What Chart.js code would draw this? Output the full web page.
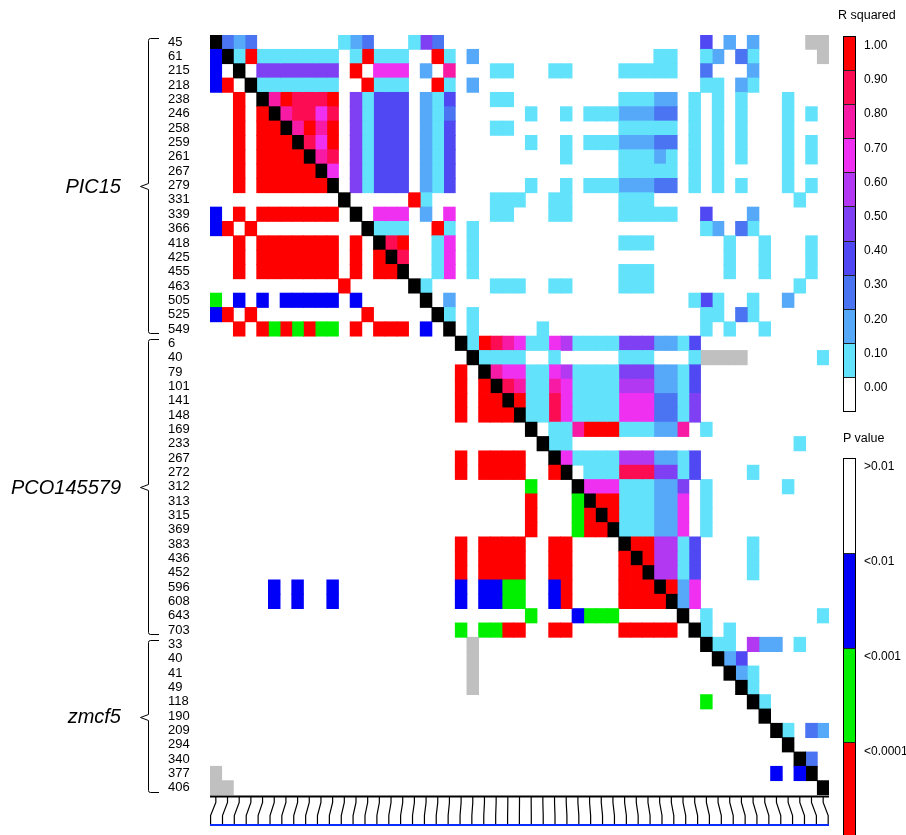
<!DOCTYPE html>
<html>
<head>
<meta charset="utf-8">
<script src="https://cdn.jsdelivr.net/npm/chart.js@4.4.1/dist/chart.umd.min.js"></script>
<style>
  html, body { margin: 0; padding: 0; background: #fff; }
  #wrap { position: relative; width: 906px; height: 835px; overflow: hidden;
          font-family: "Liberation Sans", Arial, sans-serif; color: #000; }
  #ld { position: absolute; left: 0; top: 0; }
  .grp { position: absolute; left: 0; width: 121px; text-align: right;
         font-style: italic; font-size: 20px; line-height: 24px; }
  .bar { position: absolute; left: 843px; width: 13px; box-sizing: border-box;
         border: 1px solid #000; display: flex; flex-direction: column; }
  .bar div { flex: 1 1 0; }
  .bar div + div { border-top: 1px solid #222; }
  .lbl { position: absolute; left: 864px; font-size: 12px; line-height: 14px; white-space: nowrap; }
  .ttl { position: absolute; font-size: 12.5px; line-height: 14px; white-space: nowrap; }
</style>
</head>
<body>
<div id="wrap">
  <canvas id="ld" width="906" height="835"></canvas>
  <div id="legend"></div>
</div>
<script>
// markers, top to bottom (and left to right)
const rowLabels = ['45', '61', '215', '218', '238', '246', '258', '259', '261', '267', '279',
  '331', '339', '366', '418', '425', '455', '463', '505', '525', '549',
  '6', '40', '79', '101', '141', '148', '169', '233', '267', '272', '312', '313', '315',
  '369', '383', '436', '452', '596', '608', '643', '703',
  '33', '40', '41', '49', '118', '190', '209', '294', '340', '377', '406'];
const groupNames = ['PIC15', 'PCO145579', 'zmcf5'];
const groupSizes = [21, 21, 11];

const r2Ticks = ['1.00', '0.90', '0.80', '0.70', '0.60', '0.50', '0.40', '0.30', '0.20', '0.10', '0.00'];
const pTicks = ['>0.01', '<0.01', '<0.001', '<0.0001'];

// upper triangle: R squared in tenths (X = 1.0, g = no data)
const rSquaredRows = [
  '-323000000 0123000153 0000000000 0000000000 0040202000 0gg',
  '--1X111111 101X11100X 1020000000 0000000011 0012031000 00g',
  '---0555555 50X0777020 8000110001 1000011111 0030002000 000',
  '----111111 100X11100X 1020000000 0000000000 0011021000 000',
  '-----8X999 X051444021 4000110000 0000011122 0101010001 000',
  '------8997 9051444021 3000000100 1011122233 0101010001 010',
  '-------8X8 X051444021 4000110000 0000011111 0101010001 000',
  '--------97 X051444021 4000000100 1011122233 0101010001 010',
  '---------8 9051444021 4000000000 1000011121 0101010001 010',
  '---------- 7051444021 4000000000 0000011111 0101000001 000',
  '---------- -051444021 4000000100 1011122233 0101010001 010',
  '---------- --00000X10 0000111001 1000011100 0000000000 100',
  '---------- ---0777020 7000110001 1000011111 0040002000 000',
  '---------- ----11100X 1010000000 0000000000 0012031000 000',
  '---------- -----9X001 7010000000 0000011100 0000100100 010',
  '---------- ------9001 7010000000 0000000000 0000100100 010',
  '---------- -------001 7010000000 0000011100 0000100100 010',
  '---------- --------10 0000111001 1000011100 0000000000 100',
  '---------- ---------0 2000000000 0000000000 0141001002 000',
  '---------- ---------- 1010000000 0000000000 0011031000 000',
  '---------- ---------- -010000010 0000000000 0010100100 000',
  '---------- ---------- --1X987117 6111155522 1400000000 000',
  '---------- ---------- ---1111001 0000011100 01gggg0000 001',
  '---------- ---------- ----877117 6111155522 1400000000 000',
  '---------- ---------- -----98118 7111166622 1400000000 000',
  '---------- ---------- ------X119 7111177733 1500000000 000',
  '---------- ---------- -------119 7111177733 1500000000 000',
  '---------- ---------- --------01 18XXX11122 8010000000 000',
  '---------- ---------- ---------1 1000000000 0000000000 100',
  '---------- ---------- ---------- 7111166622 1400000000 000',
  '---------- ---------- ---------- -011199955 1400001000 000',
  '---------- ---------- ---------- --77711122 5010000001 000',
  '---------- ---------- ---------- ---XX11122 7010000000 000',
  '---------- ---------- ---------- ----X11122 7010000000 000',
  '---------- ---------- ---------- -----11122 7010000000 000',
  '---------- ---------- ---------- ------XX66 1400001000 000',
  '---------- ---------- ---------- -------X66 1400001000 000',
  '---------- ---------- ---------- --------66 1400001000 000',
  '---------- ---------- ---------- ---------X 2700000000 000',
  '---------- ---------- ---------- ---------- 2700000000 000',
  '---------- ---------- ---------- ---------- -010000000 001',
  '---------- ---------- ---------- ---------- --10100000 000',
  '---------- ---------- ---------- ---------- ---1106220 100',
  '---------- ---------- ---------- ---------- ----240000 000',
  '---------- ---------- ---------- ---------- -----21000 000',
  '---------- ---------- ---------- ---------- ------1000 000',
  '---------- ---------- ---------- ---------- -------100 000',
  '---------- ---------- ---------- ---------- --------00 000',
  '---------- ---------- ---------- ---------- ---------1 032',
  '---------- ---------- ---------- ---------- ---------- 000',
  '---------- ---------- ---------- ---------- ---------- -30',
  '---------- ---------- ---------- ---------- ---------- --0',
  '---------- ---------- ---------- ---------- ---------- ---',
];

// lower triangle: P value class (. >0.01, b <0.01, n <0.001, r <0.0001, g no data)
const pValueRows = [
  '---------- ---------- ---------- ---------- ---------- ---',
  'b--------- ---------- ---------- ---------- ---------- ---',
  'b.-------- ---------- ---------- ---------- ---------- ---',
  'br.------- ---------- ---------- ---------- ---------- ---',
  '..r.------ ---------- ---------- ---------- ---------- ---',
  '..r.r----- ---------- ---------- ---------- ---------- ---',
  '..r.rr---- ---------- ---------- ---------- ---------- ---',
  '..r.rrr--- ---------- ---------- ---------- ---------- ---',
  '..r.rrrr-- ---------- ---------- ---------- ---------- ---',
  '..r.rrrrr- ---------- ---------- ---------- ---------- ---',
  '..r.rrrrrr ---------- ---------- ---------- ---------- ---',
  '.......... .--------- ---------- ---------- ---------- ---',
  'b.r.rrrrrr r.-------- ---------- ---------- ---------- ---',
  'br.r...... ...------- ---------- ---------- ---------- ---',
  '..r.rrrrrr r.r.------ ---------- ---------- ---------- ---',
  '..r.rrrrrr r.r.r----- ---------- ---------- ---------- ---',
  '..r.rrrrrr r.r.rr---- ---------- ---------- ---------- ---',
  '.......... .r.....--- ---------- ---------- ---------- ---',
  'n.b.b.bbbb b.b.....-- ---------- ---------- ---------- ---',
  'br.r...... ...r.....- ---------- ---------- ---------- ---',
  '..r.rnrnrn n.r.rrr.b. ---------- ---------- ---------- ---',
  '.......... .......... .--------- ---------- ---------- ---',
  '.......... .......... ..-------- ---------- ---------- ---',
  '.......... .......... .r.------- ---------- ---------- ---',
  '.......... .......... .r.r------ ---------- ---------- ---',
  '.......... .......... .r.rr----- ---------- ---------- ---',
  '.......... .......... .r.rrr---- ---------- ---------- ---',
  '.......... .......... .......--- ---------- ---------- ---',
  '.......... .......... ........-- ---------- ---------- ---',
  '.......... .......... .r.rrrr..- ---------- ---------- ---',
  '.......... .......... .r.rrrr..r ---------- ---------- ---',
  '.......... .......... .......n.. .--------- ---------- ---',
  '.......... .......... .......r.. .n-------- ---------- ---',
  '.......... .......... .......r.. .nr------- ---------- ---',
  '.......... .......... .......r.. .nrr------ ---------- ---',
  '.......... .......... .r.rrrr..r r....----- ---------- ---',
  '.......... .......... .r.rrrr..r r....r---- ---------- ---',
  '.......... .......... .r.rrrr..r r....rr--- ---------- ---',
  '.....b.b.. b......... .b.bbnn..b r....rrr-- ---------- ---',
  '.....b.b.. b......... .b.bbnn..b r....rrrr- ---------- ---',
  '.......... .......... .......n.. .bnnn..... ---------- ---',
  '.......... .......... .n.nnrr..r r....rrrrr .--------- ---',
  '.......... .......... ..g....... .......... ..-------- ---',
  '.......... .......... ..g....... .......... ...------- ---',
  '.......... .......... ..g....... .......... ....------ ---',
  '.......... .......... ..g....... .......... .....----- ---',
  '.......... .......... .......... .......... ..n...---- ---',
  '.......... .......... .......... .......... .......--- ---',
  '.......... .......... .......... .......... ........-- ---',
  '.......... .......... .......... .......... .........- ---',
  '.......... .......... .......... .......... .......... ---',
  'g......... .......... .......... .......... ........b. b--',
  'gg........ .......... .......... .......... .......... ..-',
];

// where each marker line lands on the physical map (in column units)
const mapPositions = [-0.45, 0.57, 1.58, 2.6, 3.62, 4.64, 5.65, 6.67, 7.69, 8.7, 9.72, 10.74,
  11.75, 12.77, 13.79, 14.81, 15.82, 16.84, 17.86, 18.87, 19.89, 20.91, 21.92, 22.94, 23.96,
  24.98, 25.99, 27.01, 28.03, 29.04, 30.06, 31.08, 32.09, 33.11, 34.13, 35.15, 36.16, 37.18,
  38.2, 39.21, 40.23, 41.25, 42.26, 43.28, 44.3, 45.32, 46.33, 47.35, 48.37, 49.38, 50.4,
  51.42, 52.43];

const r2Colors = ['#ffffff', '#62e2fb', '#56a8f8', '#4a74f2', '#5048f2', '#7e40f2',
  '#b238f2', '#f030f0', '#f71aa4', '#fc0c52', '#ff0000'];
const pColors = { b: '#0000f8', n: '#00f000', r: '#ff0000' };
const GREY = '#c0c0c0';

const r2 = rSquaredRows.map(s => s.replace(/ /g, ''));
const pv = pValueRows.map(s => s.replace(/ /g, ''));

function cellColor(r, c) {
  if (r === c) return '#000000';
  if (c > r) {
    const ch = r2[r][c];
    if (ch === 'g') return GREY;
    const t = ch === 'X' ? 10 : Number(ch);
    return t > 0 ? r2Colors[t] : null;
  }
  const ch = pv[r][c];
  if (ch === 'g') return GREY;
  return pColors[ch] || null;
}

// one dataset per column, one floating bar per row
const datasets = rowLabels.map((_, c) => {
  const colors = rowLabels.map((__, r) => cellColor(r, c));
  return {
    data: colors.map(col => (col ? [c - 0.5, c + 0.5] : null)),
    backgroundColor: colors.map(col => col || 'rgba(0,0,0,0)'),
  };
});

const ldDecor = {
  id: 'ldDecor',
  afterDraw(chart) {
    const { ctx, chartArea, scales: { x, y } } = chart;
    ctx.save();
    ctx.strokeStyle = '#000';
    ctx.lineWidth = 1;

    // group brackets
    let start = 0;
    groupSizes.forEach(n => {
      const top = Math.round(y.getPixelForValue(start) - 4) + 0.5;
      const bot = Math.round(y.getPixelForValue(start + n - 1) + 4) + 0.5;
      const mid = Math.round((top + bot) / 2) + 0.5;
      const bx = 148.5;
      ctx.beginPath();
      ctx.moveTo(159, top);
      ctx.lineTo(bx + 2, top);
      ctx.quadraticCurveTo(bx, top, bx, top + 2);
      ctx.lineTo(bx, mid - 3);
      ctx.lineTo(bx - 8, mid);
      ctx.lineTo(bx, mid + 3);
      ctx.lineTo(bx, bot - 2);
      ctx.quadraticCurveTo(bx, bot, bx + 2, bot);
      ctx.lineTo(159, bot);
      ctx.stroke();
      start += n;
    });

    // marker-to-map lines
    const left = x.getPixelForValue(-0.5), right = x.getPixelForValue(52.5);
    const y0 = chartArea.bottom + 1.5;
    ctx.lineWidth = 2;
    ctx.beginPath();
    ctx.moveTo(left, y0);
    ctx.lineTo(right, y0);
    ctx.stroke();
    ctx.lineWidth = 1.2;
    rowLabels.forEach((_, c) => {
      const xt = x.getPixelForValue(c), xb = x.getPixelForValue(mapPositions[c]);
      ctx.beginPath();
      ctx.moveTo(xt, y0);
      ctx.lineTo(xt, y0 + 6);
      ctx.lineTo(xb, y0 + 19);
      ctx.lineTo(xb, y0 + 28);
      ctx.stroke();
    });
    ctx.strokeStyle = '#0a2cff';
    ctx.lineWidth = 2;
    ctx.beginPath();
    ctx.moveTo(left, y0 + 28.5);
    ctx.lineTo(right, y0 + 28.5);
    ctx.stroke();
    ctx.restore();
  }
};

Chart.defaults.font.family = '"Liberation Sans", Arial, sans-serif';

const chart = new Chart(document.getElementById('ld'), {
  type: 'bar',
  data: { labels: rowLabels, datasets },
  options: {
    indexAxis: 'y',
    responsive: false,
    animation: false,
    events: [],
    layout: { padding: { left: 168, right: 77, top: 35, bottom: 40 } },
    datasets: {
      bar: { grouped: false, barPercentage: 1, categoryPercentage: 1, borderWidth: 0, inflateAmount: 0.4 }
    },
    plugins: { legend: { display: false }, tooltip: { enabled: false } },
    scales: {
      x: { type: 'linear', min: -0.5, max: 52.5, display: false },
      y: {
        type: 'category',
        offset: true,
        grid: { display: false },
        border: { display: false },
        ticks: { autoSkip: false, crossAlign: 'far', padding: 0, color: '#000', font: { size: 13 } },
        afterFit: s => { s.width = 42; }
      }
    }
  },
  plugins: [ldDecor]
});

// group names beside the brackets
const legend = document.getElementById('legend');
let first = 0;
groupNames.forEach((name, i) => {
  const last = first + groupSizes[i] - 1;
  const mid = (chart.scales.y.getPixelForValue(first) + chart.scales.y.getPixelForValue(last)) / 2;
  const el = document.createElement('div');
  el.className = 'grp';
  el.style.top = (mid - 12) + 'px';
  el.textContent = name;
  legend.appendChild(el);
  first = last + 1;
});

// colour keys
function addKey(title, titleX, titleY, top, bandH, colors, ticks, lblOff, height) {
  const t = document.createElement('div');
  t.className = 'ttl';
  t.style.left = titleX + 'px';
  t.style.top = titleY + 'px';
  t.textContent = title;
  legend.appendChild(t);
  const bar = document.createElement('div');
  bar.className = 'bar';
  bar.style.top = top + 'px';
  bar.style.height = height + 'px';
  colors.forEach(col => {
    const b = document.createElement('div');
    b.style.background = col;
    bar.appendChild(b);
  });
  legend.appendChild(bar);
  ticks.forEach((txt, i) => {
    const l = document.createElement('div');
    l.className = 'lbl';
    l.style.top = (top + i * bandH + lblOff) + 'px';
    l.textContent = txt;
    legend.appendChild(l);
  });
}
addKey('R squared', 838, 8, 36, 34.2, r2Colors.slice().reverse(), r2Ticks, 2, 376);
addKey('P value', 843, 431, 458, 95, ['#ffffff', pColors.b, pColors.n, pColors.r], pTicks, 1, 380);
</script>
</body>
</html>
